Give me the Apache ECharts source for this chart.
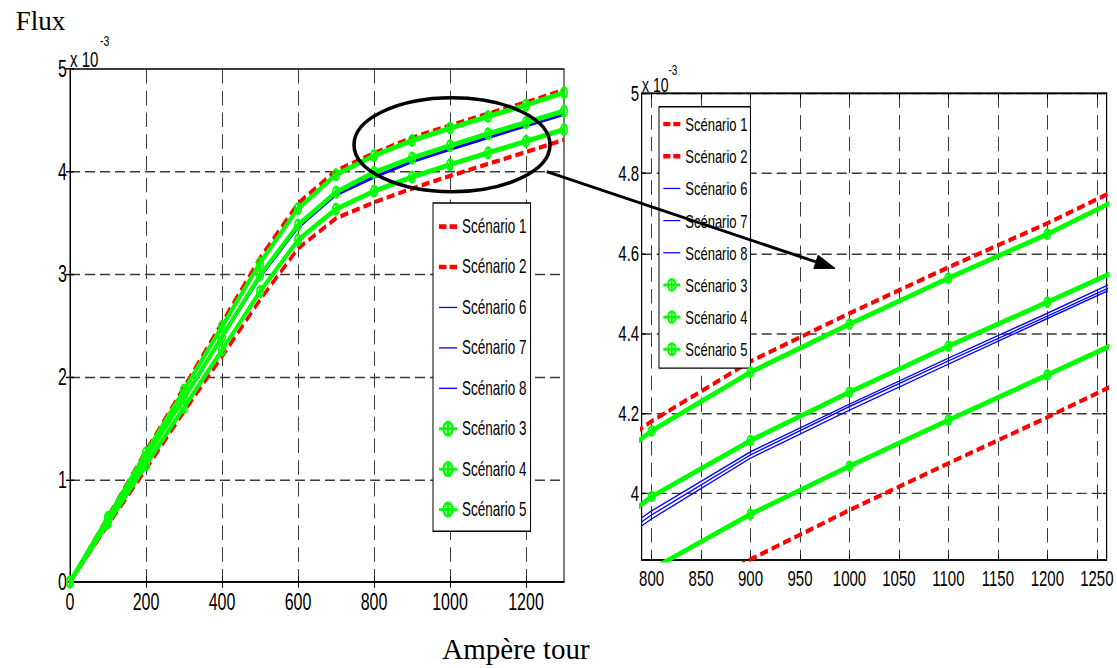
<!DOCTYPE html>
<html><head><meta charset="utf-8">
<script src="https://cdn.jsdelivr.net/npm/echarts@6/dist/echarts.min.js"></script>
<style>
html,body{margin:0;padding:0;background:#fff;overflow:hidden}
#wrap{position:relative;width:1117px;height:668px;overflow:hidden;background:#fff}
#a{position:absolute;left:0;top:0;width:1117px;height:461px;transform:scaleY(1.449);transform-origin:0 0}
#b{position:absolute;left:0;top:0;width:1117px;height:668px;pointer-events:none}
</style></head>
<body><div id="wrap"><div id="a"></div><div id="b"></div></div>
<script>
// ---- data (Flux in units of 1e-3) ----
const ampereTours = [0, 100, 200, 300, 400, 500, 600, 700, 800, 900, 1000, 1100, 1200, 1300];
const scenario1 = [0, 0.64, 1.28, 1.90, 2.53, 3.16, 3.69, 4.01, 4.18, 4.33, 4.45, 4.565, 4.675, 4.795];
const scenario2 = [0, 0.555, 1.10, 1.66, 2.196, 2.75, 3.25, 3.545, 3.70, 3.835, 3.958, 4.075, 4.19, 4.31];
const scenario6 = [0, 0.61, 1.21, 1.80, 2.38, 2.97, 3.465, 3.785, 3.956, 4.104, 4.223, 4.338, 4.45, 4.565];
const scenario7 = [0, 0.605, 1.205, 1.795, 2.375, 2.965, 3.455, 3.775, 3.946, 4.096, 4.217, 4.331, 4.443, 4.557];
const scenario8 = [0, 0.60, 1.20, 1.79, 2.37, 2.96, 3.445, 3.765, 3.936, 4.088, 4.208, 4.323, 4.437, 4.55];
const scenario3 = [0, 0.63, 1.26, 1.87, 2.49, 3.11, 3.64, 3.97, 4.156, 4.303, 4.423, 4.538, 4.648, 4.77];
const scenario4 = [0, 0.615, 1.215, 1.79, 2.39, 2.99, 3.48, 3.80, 3.992, 4.132, 4.253, 4.368, 4.478, 4.59];
const scenario5 = [0, 0.575, 1.14, 1.70, 2.26, 2.83, 3.333, 3.635, 3.81, 3.948, 4.068, 4.183, 4.296, 4.41];

const seriesNames = ['Scénario 1', 'Scénario 2', 'Scénario 6', 'Scénario 7', 'Scénario 8', 'Scénario 3', 'Scénario 4', 'Scénario 5'];
const seriesValues = [scenario1, scenario2, scenario6, scenario7, scenario8, scenario3, scenario4, scenario5];
const seriesKinds = ['red', 'red', 'blue', 'blue', 'blue', 'green', 'green', 'green'];

const xTicksLeft = [0, 200, 400, 600, 800, 1000, 1200];
const yTicksLeft = [0, 1, 2, 3, 4, 5];
const xTicksRight = [800, 850, 900, 950, 1000, 1050, 1100, 1150, 1200, 1250];
const yTicksRight = [4, 4.2, 4.4, 4.6, 4.8, 5];

// ---- layout ----
const S = 1.449; // vertical stretch of the figure
const Y = v => v / S;
const FONT = 'Liberation Sans, Arial, Helvetica, sans-serif';
const SERIF = 'Liberation Serif, Times New Roman, serif';
const MARK = 'path://M0,-5A5,5 0 1 1 0,5A5,5 0 1 1 0,-5ZM0,-3A3,3 0 1 0 0,3A3,3 0 1 0 0,-3ZM-0.9,-3L0.9,-3L0.9,3L-0.9,3Z';
const ICON_DASH = 'path://M0,0H7V3H0ZM10,0H17V3H10Z';
const ICON_THIN = 'path://M0,0H20V1H0Z';

const chartA = echarts.init(document.getElementById('a'), null, {renderer: 'svg'});
const chartB = echarts.init(document.getElementById('b'), null, {renderer: 'svg'});

function pairs(vals) { return ampereTours.map((x, i) => [x, vals[i]]); }

function makeSeries(idx, xi, yi, symSize) {
  const kind = seriesKinds[idx];
  const s = {
    type: 'line', name: seriesNames[idx], xAxisIndex: xi, yAxisIndex: yi,
    data: pairs(seriesValues[idx]), animation: false, clip: true, silent: true,
    z: kind === 'green' ? 4 : (kind === 'blue' ? 3 : 2)
  };
  if (kind === 'red') {
    s.lineStyle = {color: '#ff0000', width: 3, type: [8, 4]};
    s.itemStyle = {color: '#ff0000'};
    s.symbol = 'none';
  } else if (kind === 'blue') {
    s.lineStyle = {color: '#0000ff', width: 1};
    s.itemStyle = {color: '#0000ff'};
    s.symbol = 'none';
  } else {
    s.lineStyle = {color: '#00ff00', width: 3.5};
    s.itemStyle = {color: '#00ff00', borderWidth: 0};
    s.symbol = MARK;
    s.symbolSize = symSize;
    s.showAllSymbol = true;
  }
  return s;
}

const series = [];
seriesNames.forEach((n, i) => series.push(makeSeries(i, 0, 0, [8, 9])));
seriesNames.forEach((n, i) => series.push(makeSeries(i, 2, 2, [8, 8])));

function legendData() {
  return seriesNames.map((n, i) => {
    const k = seriesKinds[i];
    if (k === 'red') return {name: n, icon: ICON_DASH};
    if (k === 'blue') return {name: n, icon: ICON_THIN};
    return {name: n};
  });
}

const fmt = v => String(v);
const dashed = {show: true, lineStyle: {color: '#3a3a3a', width: 1, type: [10, 5]}};
const axLine = {show: true, lineStyle: {color: '#000', width: 1}};
function tick(vals) { return {show: true, inside: true, length: 4, lineStyle: {color: '#000'}, customValues: vals}; }

const leftGrid = {left: 70, top: Y(69), width: 494, height: Y(582 - 69), show: true, borderColor: '#000', borderWidth: 1, backgroundColor: '#fff', outerBoundsMode: 'none', containLabel: false};
const rightGrid = {left: 641.7, top: Y(93.3), width: 465, height: Y(560 - 93.3), show: true, borderColor: '#000', borderWidth: 1, backgroundColor: '#fff', outerBoundsMode: 'none', containLabel: false};

const optionA = {
  backgroundColor: '#fff',
  animation: false,
  grid: [leftGrid, rightGrid],
  xAxis: [
    {type: 'value', gridIndex: 0, position: 'bottom', min: 0, max: 1300, axisLine: axLine, axisTick: tick(xTicksLeft),
     axisLabel: {customValues: xTicksLeft, formatter: fmt, color: '#000', fontSize: 16, fontFamily: FONT, margin: 5.5}, splitLine: dashed},
    {type: 'value', gridIndex: 0, position: 'top', min: 0, max: 1300, axisLine: axLine, axisTick: tick(xTicksLeft),
     axisLabel: {show: false}, splitLine: {show: false}},
    {type: 'value', gridIndex: 1, position: 'bottom', min: 790, max: 1260, axisLine: axLine, axisTick: tick(xTicksRight),
     axisLabel: {customValues: xTicksRight, formatter: fmt, color: '#000', fontSize: 15, fontFamily: FONT, margin: 5}, splitLine: dashed},
    {type: 'value', gridIndex: 1, position: 'top', min: 790, max: 1260, axisLine: axLine, axisTick: tick(xTicksRight),
     axisLabel: {show: false}, splitLine: {show: false}}
  ],
  yAxis: [
    {type: 'value', gridIndex: 0, position: 'left', min: 0, max: 5, axisLine: axLine, axisTick: tick(yTicksLeft),
     axisLabel: {customValues: yTicksLeft, formatter: fmt, color: '#000', fontSize: 16, fontFamily: FONT, margin: 3}, splitLine: dashed},
    {type: 'value', gridIndex: 0, position: 'right', min: 0, max: 5, axisLine: axLine, axisTick: tick(yTicksLeft),
     axisLabel: {show: false}, splitLine: {show: false}},
    {type: 'value', gridIndex: 1, position: 'left', min: 3.8333, max: 5, axisLine: axLine, axisTick: tick(yTicksRight),
     axisLabel: {customValues: yTicksRight, formatter: fmt, color: '#000', fontSize: 15, fontFamily: FONT, margin: 2.5}, splitLine: dashed},
    {type: 'value', gridIndex: 1, position: 'right', min: 3.8333, max: 5, axisLine: axLine, axisTick: tick(yTicksRight),
     axisLabel: {show: false}, splitLine: {show: false}}
  ],
  legend: [
    {data: legendData(), orient: 'vertical', left: 433, top: Y(203), itemWidth: 18, itemHeight: 14, itemGap: 13.9,
     padding: [9.3, 4, 8, 5], borderColor: '#000', borderWidth: 1, backgroundColor: '#fff', borderRadius: 0,
     symbolKeepAspect: true, selectedMode: false, textStyle: {fontSize: 13.5, lineHeight: 14, color: '#000', fontFamily: FONT}},
    {data: legendData(), orient: 'vertical', left: 659, top: Y(106.7), itemWidth: 17, itemHeight: 12, itemGap: 9.2,
     padding: [5.5, 3, 6.5, 3.3], borderColor: '#000', borderWidth: 1, backgroundColor: '#fff', borderRadius: 0,
     symbolKeepAspect: true, selectedMode: false, textStyle: {fontSize: 13, lineHeight: 12, color: '#000', fontFamily: FONT}}
  ],
  graphic: [
    {type: 'text', left: 70, top: Y(49), z: 100, style: {text: 'x 10', fontSize: 15, fontFamily: FONT, fill: '#000'}},
    {type: 'text', left: 100, top: Y(33), z: 100, style: {text: '-3', fontSize: 10.5, fontFamily: FONT, fill: '#000'}},
    {type: 'text', left: 642, top: Y(75), z: 100, style: {text: 'x 10', fontSize: 14, fontFamily: FONT, fill: '#000'}},
    {type: 'text', left: 668.5, top: Y(63), z: 100, style: {text: '-3', fontSize: 10, fontFamily: FONT, fill: '#000'}}
  ],
  series: series
};
chartA.setOption(optionA);

const optionB = {
  animation: false,
  graphic: [
    {type: 'text', x: 40.5, y: 21, style: {text: 'Flux', fontSize: 27, fontFamily: SERIF, fill: '#000', align: 'center', verticalAlign: 'middle'}},
    {type: 'text', x: 516, y: 649, style: {text: 'Ampère tour', fontSize: 29, fontFamily: SERIF, fill: '#000', align: 'center', verticalAlign: 'middle'}},
    {type: 'ellipse', shape: {cx: 452, cy: 144.7, rx: 98, ry: 47}, style: {fill: 'none', stroke: '#000', lineWidth: 3.5}},
    {type: 'line', shape: {x1: 546.7, y1: 171.7, x2: 816, y2: 261.9}, style: {stroke: '#000', lineWidth: 3}},
    {type: 'polygon', shape: {points: [[835, 268.3], [813.8, 268.6], [818.2, 255.3]]}, style: {fill: '#000', stroke: '#000', lineWidth: 1}}
  ]
};
chartB.setOption(optionB);
</script>
</body></html>
